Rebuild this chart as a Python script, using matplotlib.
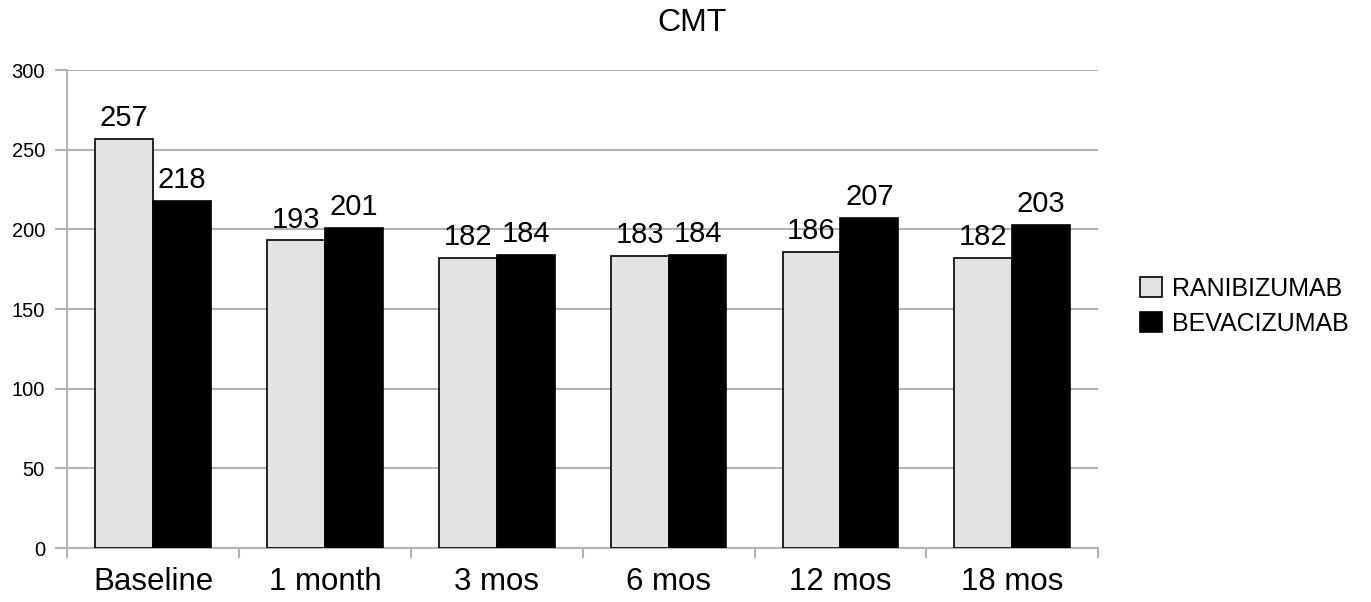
import numpy as np
import matplotlib.pyplot as plt

plt.rcParams['font.family'] = ['Liberation Sans', 'DejaVu Sans']

categories = ["Baseline", "1 month", "3 mos", "6 mos", "12 mos", "18 mos"]
ranibizumab = [257, 193, 182, 183, 186, 182]
bevacizumab = [218, 201, 184, 184, 207, 203]

fig = plt.figure(figsize=(13.71, 6.02), dpi=100)
ax = fig.add_axes([0.049, 0.0897, 0.752, 0.794])

x = np.arange(len(categories))
w = 0.337
b1 = ax.bar(x - w / 2, ranibizumab, w, color="#e3e3e3", edgecolor="black", linewidth=1.2,
            label="RANIBIZUMAB", zorder=3)
b2 = ax.bar(x + w / 2, bevacizumab, w, color="black", edgecolor="black", linewidth=1.2,
            label="BEVACIZUMAB", zorder=3)
ax.bar_label(b1, padding=5, fontsize=21)
ax.bar_label(b2, padding=5, fontsize=21)

ax.set_xlim(-0.5, len(categories) - 0.5)
ax.set_ylim(0, 300)
ax.set_yticks(range(0, 301, 50))
ax.tick_params(axis="y", labelsize=14.5, color="#b3b3b3", length=9, width=1.5, pad=7)

ax.set_xticks(x)
ax.set_xticklabels(categories, fontsize=22.5)
ax.tick_params(axis="x", length=0, pad=14)
ax.set_xticks(np.arange(-0.5, len(categories)), minor=True)
ax.tick_params(axis="x", which="minor", length=7, width=1.5, color="#b3b3b3")

ax.grid(axis="y", color="#b3b3b3", linewidth=1.5, zorder=0)
for s in ["top", "right"]:
    ax.spines[s].set_visible(False)
for s in ["left", "bottom"]:
    ax.spines[s].set_color("#b3b3b3")
    ax.spines[s].set_linewidth(1.5)

fig.text(0.505, 0.962, "CMT", fontsize=23, ha="center", va="center")

ax.legend(loc="center left", bbox_to_anchor=(1.019, 0.506), frameon=False, fontsize=18,
          handlelength=0.85, handleheight=0.85, handletextpad=0.4, labelspacing=0.45)

fig.savefig("out.png", dpi=100)
